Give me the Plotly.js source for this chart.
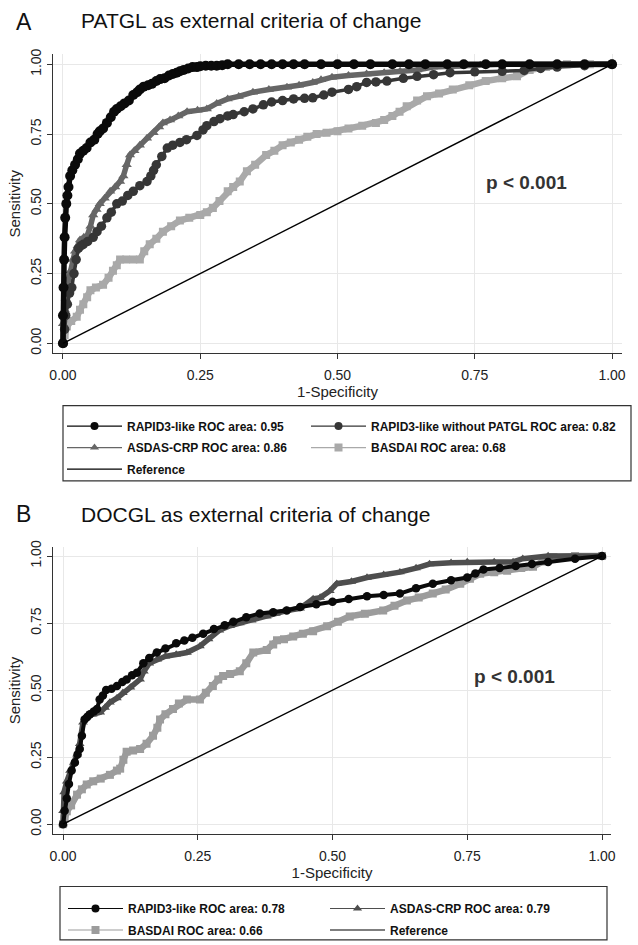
<!DOCTYPE html>
<html>
<head>
<meta charset="utf-8">
<script src="https://cdn.plot.ly/plotly-3.0.1.min.js"></script>
<style>html,body{margin:0;padding:0;background:#fff;}</style>
</head>
<body>
<div id="chart" style="width:638px;height:945px;"></div>
<script>
// ---------- DATA ----------
var tickVals = [0, 0.25, 0.5, 0.75, 1];
var tickText = ['0.00', '0.25', '0.50', '0.75', '1.00'];

// Panel A : PATGL as external criteria of change
var aRapidX = [0,0,0.001,0.002,0.003,0.004,0.006,0.008,0.01,0.013,0.017,0.022,0.027,0.031,0.037,0.043,0.05,0.057,0.063,0.067,0.073,0.08,0.087,0.093,0.098,0.105,0.112,0.12,0.128,0.135,0.14,0.147,0.155,0.162,0.17,0.177,0.185,0.193,0.2,0.207,0.213,0.22,0.228,0.236,0.244,0.25,0.26,0.27,0.28,0.29,0.3,0.32,0.34,0.36,0.38,0.4,0.42,0.44,0.47,0.5,0.53,0.56,0.6,0.63,0.66,0.7,0.73,0.77,0.8,0.85,0.9,0.95,1];
var aRapidY = [0,0.1,0.2,0.3,0.38,0.45,0.5,0.53,0.56,0.6,0.62,0.64,0.66,0.68,0.69,0.7,0.72,0.73,0.75,0.76,0.77,0.79,0.81,0.83,0.84,0.85,0.86,0.87,0.89,0.9,0.91,0.92,0.925,0.93,0.94,0.947,0.95,0.96,0.965,0.97,0.975,0.98,0.985,0.99,0.99,0.993,0.995,0.995,0.995,0.997,1,1,1,1,1,1,1,1,1,1,1,1,1,1,1,1,1,1,1,1,1,1,1];

var aNoPatglX = [0,0.003,0.005,0.008,0.012,0.016,0.02,0.024,0.028,0.033,0.037,0.045,0.055,0.062,0.07,0.08,0.088,0.098,0.108,0.118,0.128,0.14,0.153,0.16,0.165,0.17,0.18,0.19,0.2,0.213,0.225,0.244,0.255,0.262,0.275,0.286,0.3,0.31,0.33,0.346,0.365,0.38,0.4,0.42,0.44,0.455,0.475,0.49,0.52,0.535,0.553,0.57,0.59,0.62,0.645,0.675,0.705,0.75,0.8,0.84,0.87,0.9,0.95,1];
var aNoPatglY = [0,0.05,0.1,0.14,0.18,0.2,0.25,0.3,0.34,0.35,0.355,0.365,0.38,0.4,0.42,0.45,0.47,0.5,0.51,0.53,0.545,0.565,0.58,0.6,0.62,0.64,0.67,0.7,0.71,0.72,0.73,0.745,0.765,0.78,0.795,0.805,0.815,0.82,0.83,0.84,0.855,0.865,0.87,0.876,0.878,0.88,0.89,0.9,0.91,0.92,0.935,0.937,0.94,0.95,0.957,0.963,0.97,0.973,0.975,0.978,0.985,0.99,0.995,1];

var aAsdasX = [0,0,0.003,0.005,0.007,0.01,0.014,0.018,0.022,0.027,0.031,0.038,0.044,0.05,0.055,0.061,0.067,0.076,0.086,0.095,0.104,0.11,0.116,0.122,0.13,0.14,0.153,0.165,0.175,0.182,0.195,0.21,0.226,0.245,0.262,0.28,0.3,0.32,0.346,0.375,0.408,0.43,0.455,0.47,0.49,0.52,0.553,0.585,0.614,0.645,0.674,0.72,0.76,0.8,0.9,1];
var aAsdasY = [0,0.07,0.12,0.16,0.2,0.23,0.26,0.3,0.33,0.35,0.37,0.38,0.385,0.42,0.46,0.48,0.5,0.52,0.545,0.56,0.58,0.6,0.64,0.675,0.69,0.71,0.735,0.755,0.775,0.79,0.8,0.815,0.83,0.835,0.84,0.86,0.876,0.885,0.9,0.91,0.918,0.925,0.935,0.945,0.954,0.96,0.965,0.97,0.975,0.98,0.99,0.993,0.997,1,1,1];

var aBasdaiX = [0,0.003,0.007,0.015,0.025,0.031,0.037,0.044,0.05,0.06,0.073,0.083,0.091,0.098,0.104,0.115,0.128,0.14,0.148,0.158,0.17,0.182,0.197,0.213,0.23,0.25,0.262,0.273,0.285,0.3,0.31,0.322,0.335,0.35,0.37,0.385,0.4,0.415,0.43,0.445,0.462,0.48,0.5,0.52,0.545,0.57,0.585,0.6,0.613,0.626,0.645,0.663,0.685,0.71,0.74,0.77,0.8,0.827,0.85,0.88,0.918,0.96,1];
var aBasdaiY = [0,0.03,0.06,0.08,0.095,0.12,0.14,0.165,0.19,0.2,0.21,0.235,0.26,0.28,0.3,0.3,0.3,0.3,0.33,0.355,0.375,0.4,0.42,0.44,0.45,0.46,0.47,0.485,0.51,0.545,0.56,0.58,0.617,0.64,0.675,0.69,0.71,0.72,0.73,0.74,0.75,0.755,0.76,0.77,0.78,0.79,0.8,0.815,0.83,0.85,0.87,0.886,0.895,0.91,0.925,0.94,0.95,0.957,0.98,0.99,1,1,1];

// Panel B : DOCGL as external criteria of change
var bRapidX = [0,0.003,0.007,0.011,0.016,0.022,0.027,0.031,0.035,0.04,0.045,0.05,0.057,0.063,0.068,0.074,0.08,0.09,0.1,0.11,0.118,0.128,0.137,0.149,0.16,0.174,0.19,0.21,0.225,0.24,0.26,0.28,0.3,0.316,0.34,0.365,0.39,0.415,0.44,0.47,0.5,0.53,0.564,0.595,0.625,0.655,0.686,0.72,0.75,0.765,0.78,0.81,0.84,0.87,0.9,0.95,1];
var bRapidY = [0,0.05,0.096,0.15,0.2,0.23,0.26,0.28,0.33,0.39,0.4,0.41,0.42,0.43,0.465,0.48,0.5,0.505,0.515,0.53,0.54,0.555,0.565,0.6,0.62,0.64,0.655,0.675,0.685,0.695,0.71,0.728,0.742,0.755,0.772,0.786,0.79,0.797,0.81,0.82,0.83,0.84,0.85,0.855,0.86,0.88,0.897,0.91,0.92,0.935,0.95,0.955,0.963,0.97,0.978,0.99,1];

var bAsdasX = [0,0,0.002,0.007,0.013,0.02,0.026,0.031,0.037,0.044,0.055,0.069,0.078,0.087,0.1,0.111,0.125,0.143,0.15,0.16,0.175,0.19,0.21,0.23,0.254,0.27,0.29,0.31,0.328,0.35,0.378,0.395,0.415,0.44,0.464,0.477,0.495,0.508,0.535,0.564,0.595,0.625,0.655,0.68,0.72,0.75,0.8,0.835,0.853,0.9,1];
var bAsdasY = [0,0.05,0.12,0.16,0.2,0.23,0.26,0.3,0.38,0.405,0.41,0.417,0.435,0.454,0.47,0.49,0.51,0.54,0.57,0.6,0.615,0.626,0.633,0.64,0.664,0.69,0.723,0.74,0.75,0.76,0.775,0.785,0.797,0.805,0.84,0.845,0.87,0.897,0.905,0.92,0.93,0.94,0.955,0.97,0.975,0.978,0.978,0.978,0.99,1,1];

var bBasdaiX = [0,0.003,0.007,0.015,0.026,0.035,0.044,0.056,0.07,0.087,0.1,0.106,0.112,0.118,0.13,0.143,0.155,0.167,0.175,0.18,0.19,0.204,0.215,0.23,0.254,0.265,0.278,0.288,0.297,0.31,0.328,0.34,0.353,0.378,0.39,0.397,0.41,0.427,0.445,0.464,0.49,0.51,0.532,0.56,0.594,0.615,0.638,0.66,0.686,0.71,0.737,0.755,0.774,0.8,0.824,0.85,0.872,0.89,0.91,0.95,1];
var bBasdaiY = [0,0.02,0.048,0.07,0.11,0.13,0.148,0.16,0.17,0.184,0.2,0.207,0.24,0.27,0.275,0.28,0.3,0.33,0.36,0.39,0.41,0.43,0.45,0.465,0.465,0.49,0.515,0.54,0.553,0.56,0.57,0.6,0.64,0.65,0.67,0.686,0.69,0.7,0.71,0.72,0.738,0.755,0.775,0.785,0.797,0.815,0.834,0.845,0.86,0.875,0.897,0.915,0.934,0.94,0.945,0.955,0.96,0.98,0.996,1,1];

var refX = [0, 1];
var refY = [0, 1];

var namesA = ['RAPID3-like ROC area: 0.95', 'RAPID3-like without PATGL ROC area: 0.82', 'ASDAS-CRP ROC area: 0.86', 'BASDAI ROC area: 0.68', 'Reference'];
var namesB = ['RAPID3-like ROC area: 0.78', 'ASDAS-CRP ROC area: 0.79', 'BASDAI ROC area: 0.66', 'Reference'];
var titleA = 'PATGL as external criteria of change';
var titleB = 'DOCGL as external criteria of change';
var pText = 'p < 0.001';

// ---------- STYLES ----------
var C_BLACK = '#0a0a0a', C_DARK = '#363636', C_MID = '#666666', C_LIGHT = '#a9a9a9';
var C_DARK_B = '#4e4e4e', C_LIGHT_B = '#9c9c9c';

function curve(x, y, color, symbol, size, lw, xa, ya) {
  return {x: x, y: y, type: 'scatter', mode: 'lines+markers', xaxis: xa, yaxis: ya,
    showlegend: false, hoverinfo: 'skip',
    line: {color: color, width: lw}, marker: {color: color, symbol: symbol, size: size}};
}
function legItem(name, color, symbol, mode, xa, ya, leg, grp) {
  return {x: [null], y: [null], type: 'scatter', mode: mode, name: name, xaxis: xa, yaxis: ya,
    legend: leg, legendgroup: grp, line: {color: color, width: 1.2}, marker: {color: color, symbol: symbol, size: 8}};
}

var traces = [
  curve(aBasdaiX, aBasdaiY, C_LIGHT, 'square', 8, 6.5, 'x', 'y'),
  curve(aAsdasX, aAsdasY, C_MID, 'triangle-up', 9, 5.5, 'x', 'y'),
  curve(aNoPatglX, aNoPatglY, C_DARK, 'circle', 9.5, 3.5, 'x', 'y'),
  curve(aRapidX, aRapidY, C_BLACK, 'circle', 10, 5.5, 'x', 'y'),
  {x: refX, y: refY, type: 'scatter', mode: 'lines', xaxis: 'x', yaxis: 'y', showlegend: false,
   hoverinfo: 'skip', line: {color: '#000', width: 1.4}},
  legItem(namesA[0], C_BLACK, 'circle', 'lines+markers', 'x', 'y', 'legend', 'a1'),
  legItem(namesA[2], C_MID, 'triangle-up', 'lines+markers', 'x', 'y', 'legend', 'a3'),
  legItem(namesA[4], '#000', 'circle', 'lines', 'x', 'y', 'legend', 'a5'),
  legItem(namesA[1], C_DARK, 'circle', 'lines+markers', 'x', 'y', 'legend2', 'a2'),
  legItem(namesA[3], C_LIGHT, 'square', 'lines+markers', 'x', 'y', 'legend2', 'a4'),

  curve(bBasdaiX, bBasdaiY, C_LIGHT_B, 'square', 8, 6.5, 'x2', 'y2'),
  curve(bAsdasX, bAsdasY, C_DARK_B, 'triangle-up', 8.5, 5.5, 'x2', 'y2'),
  curve(bRapidX, bRapidY, C_BLACK, 'circle', 8.5, 4, 'x2', 'y2'),
  {x: refX, y: refY, type: 'scatter', mode: 'lines', xaxis: 'x2', yaxis: 'y2', showlegend: false,
   hoverinfo: 'skip', line: {color: '#000', width: 1.4}},
  legItem(namesB[0], C_BLACK, 'circle', 'lines+markers', 'x2', 'y2', 'legend3', 'b1'),
  legItem(namesB[2], C_LIGHT_B, 'square', 'lines+markers', 'x2', 'y2', 'legend3', 'b3'),
  legItem(namesB[1], C_DARK_B, 'triangle-up', 'lines+markers', 'x2', 'y2', 'legend4', 'b2'),
  legItem(namesB[3], '#000', 'circle', 'lines', 'x2', 'y2', 'legend4', 'b4')
];

var W = 638, H = 945;
function px(v) { return v / W; }
function py(v) { return 1 - v / H; }

var tickFont = {family: 'Liberation Sans, Arial, sans-serif', size: 14, color: '#222'};
var axTitleFont = {family: 'Liberation Sans, Arial, sans-serif', size: 15, color: '#222'};

function xAxis(domain, range, anchor) {
  return {domain: domain, range: range, anchor: anchor, tickvals: tickVals, ticktext: tickText,
    showline: true, linecolor: '#333', linewidth: 1.2, ticks: 'outside', ticklen: 5, tickcolor: '#333',
    showgrid: true, gridcolor: '#e8e8e8', gridwidth: 1, zeroline: false, tickfont: tickFont,
    ticklabelstandoff: 4,
    title: {text: '1-Specificity', font: axTitleFont, standoff: 2}, fixedrange: true};
}
function yAxis(domain, range, anchor) {
  return {domain: domain, range: range, anchor: anchor, tickvals: tickVals, ticktext: tickText,
    tickangle: -90, showline: true, linecolor: '#333', linewidth: 1.2, ticks: 'outside', ticklen: 5,
    tickcolor: '#333', showgrid: true, gridcolor: '#e8e8e8', gridwidth: 1, zeroline: false,
    tickfont: tickFont, title: {text: 'Sensitivity', font: axTitleFont, standoff: 4}, fixedrange: true};
}

var legFont = {family: 'Liberation Sans, Arial, sans-serif', size: 12, color: '#111', weight: 'bold'};
function legend(xp, ytop) {
  return {x: px(xp), y: py(ytop), xanchor: 'left', yanchor: 'top', orientation: 'v',
    borderwidth: 0, bgcolor: 'rgba(0,0,0,0)', font: legFont, itemwidth: 55,
    tracegroupgap: 2.5, traceorder: 'grouped'};
}

var layout = {
  width: W, height: H,
  margin: {l: 0, r: 0, t: 0, b: 0},
  paper_bgcolor: '#fff', plot_bgcolor: '#fff',
  xaxis: xAxis([px(53), px(622)], [-0.0182, 1.0182], 'y'),
  yaxis: yAxis([py(357), py(55)], [-0.0355, 1.0355], 'x'),
  xaxis2: xAxis([px(53), px(611)], [-0.0186, 1.0167], 'y2'),
  yaxis2: yAxis([py(843), py(553)], [-0.0369, 1.0332], 'x2'),
  legend: legend(62, 416),
  legend2: legend(306, 416),
  legend3: legend(63, 904),
  legend4: legend(325, 904),
  shapes: [
    {type: 'rect', xref: 'paper', yref: 'paper', x0: px(63), x1: px(631), y0: py(486), y1: py(410),
     line: {color: '#333', width: 1.2}, fillcolor: 'rgba(0,0,0,0)', layer: 'below'},
    {type: 'rect', xref: 'paper', yref: 'paper', x0: px(60), x1: px(607), y0: py(950), y1: py(896),
     line: {color: '#333', width: 1.2}, fillcolor: 'rgba(0,0,0,0)', layer: 'below'}
  ],
  annotations: [
    {text: 'A', xref: 'paper', yref: 'paper', x: px(14), y: py(22), xanchor: 'left', yanchor: 'middle',
     showarrow: false, font: {family: 'Liberation Sans, Arial, sans-serif', size: 23, color: '#111'}},
    {text: titleA, xref: 'paper', yref: 'paper', x: px(79), y: py(21), xanchor: 'left', yanchor: 'middle',
     showarrow: false, font: {family: 'Liberation Sans, Arial, sans-serif', size: 21, color: '#111'}},
    {text: 'B', xref: 'paper', yref: 'paper', x: px(14), y: py(519), xanchor: 'left', yanchor: 'middle',
     showarrow: false, font: {family: 'Liberation Sans, Arial, sans-serif', size: 23, color: '#111'}},
    {text: titleB, xref: 'paper', yref: 'paper', x: px(79), y: py(520), xanchor: 'left', yanchor: 'middle',
     showarrow: false, font: {family: 'Liberation Sans, Arial, sans-serif', size: 21, color: '#111'}},
    {text: pText, xref: 'x', yref: 'y', x: 0.845, y: 0.575, xanchor: 'center', yanchor: 'middle',
     showarrow: false, font: {family: 'Liberation Sans, Arial, sans-serif', size: 19, color: '#333', weight: 'bold'}},
    {text: pText, xref: 'x2', yref: 'y2', x: 0.837, y: 0.55, xanchor: 'center', yanchor: 'middle',
     showarrow: false, font: {family: 'Liberation Sans, Arial, sans-serif', size: 19, color: '#333', weight: 'bold'}}
  ]
};

Plotly.newPlot('chart', traces, layout, {displayModeBar: false, staticPlot: true});
</script>
</body>
</html>
